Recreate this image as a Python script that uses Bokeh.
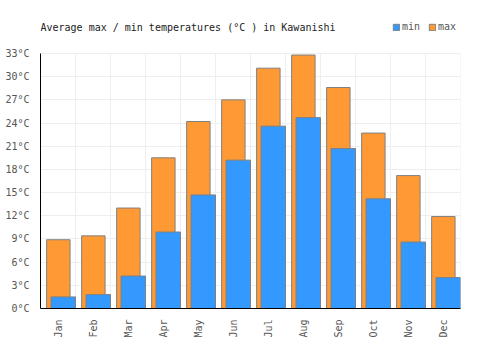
import numpy as np
from bokeh.plotting import figure
from bokeh.models import (Range1d, FixedTicker, PrintfTickFormatter, Legend, LegendItem, Label)
from bokeh.embed import file_html
from bokeh.resources import INLINE

months = ["Jan", "Feb", "Mar", "Apr", "May", "Jun", "Jul", "Aug", "Sep", "Oct", "Nov", "Dec"]
t_max = [8.9, 9.4, 13.0, 19.5, 24.2, 27.0, 31.1, 32.8, 28.6, 22.7, 17.2, 11.9]
t_min = [1.5, 1.8, 4.2, 9.9, 14.7, 19.2, 23.6, 24.7, 20.7, 14.2, 8.6, 4.0]
y_ticks = list(range(0, 34, 3))
title_text = "Average max / min temperatures (°C ) in Kawanishi"

FONT = "DejaVu Sans Mono"
W, H = 500, 350
LEFT, RIGHT, TOP, BOTTOM = 40, 40, 10, 42
frame_h = H - TOP - BOTTOM           # 298 px
axis_h = 255                          # px from 0 to 33 in the reference
y_top = y_ticks[-1] * frame_h / axis_h

n = len(months)
centers = np.arange(n) + 0.5
bounds = np.arange(n + 1)

p = figure(width=W, height=H, output_backend="svg", toolbar_location=None,
           x_range=Range1d(0, n), y_range=Range1d(0, y_top),
           min_border_left=LEFT, min_border_right=RIGHT, min_border_top=TOP,
           min_border_bottom=BOTTOM)

p.outline_line_color = None
p.xgrid.visible = False
p.ygrid.ticker = FixedTicker(ticks=y_ticks)
p.ygrid.grid_line_color = "#eeeeee"

# vertical grid lines at category boundaries, only up to the top tick
p.segment(x0=bounds, x1=bounds, y0=[y_ticks[0]] * (n + 1), y1=[y_ticks[-1]] * (n + 1),
          line_color="#eeeeee", line_width=1, level="underlay")

r_max = p.vbar(x=centers + 0.01, top=t_max, bottom=0, width=0.67,
               fill_color="#FF9933", line_color="#808080", line_width=1)
r_min = p.vbar(x=centers + 0.15, top=t_min, bottom=0, width=0.70,
               fill_color="#3399FF", line_color="#808080", line_width=1)

p.xaxis.ticker = FixedTicker(ticks=list(centers))
p.xaxis.major_label_overrides = {float(c): m for c, m in zip(centers, months)}
p.xaxis.major_label_orientation = np.pi / 2
p.yaxis.ticker = FixedTicker(ticks=y_ticks)
p.yaxis.formatter = PrintfTickFormatter(format="%d°C")
p.yaxis.bounds = (y_ticks[0], y_ticks[-1])

for ax in (p.xaxis[0], p.yaxis[0]):
    ax.axis_line_color = "black"
    ax.axis_line_width = 1
    ax.major_tick_line_color = None
    ax.minor_tick_line_color = None
    ax.major_label_text_font = FONT
    ax.major_label_text_font_size = "10px"
    ax.major_label_text_color = "#555555"
    ax.major_label_standoff = 5

title = Label(x=0, y=frame_h - 17, x_units="screen", y_units="screen",
              text=title_text, text_font=FONT, text_font_size="10px",
              text_color="#222222", text_baseline="middle", text_align="left")
p.add_layout(title)

legend = Legend(items=[LegendItem(label="min", renderers=[r_min]),
                       LegendItem(label="max", renderers=[r_max])],
                orientation="horizontal", location=(352, frame_h - 22),
                glyph_width=8, glyph_height=8, label_text_font=FONT,
                label_text_font_size="10px", label_text_color="#555555",
                label_standoff=2, spacing=6, padding=0, margin=0,
                border_line_color=None, background_fill_alpha=0, label_height=10)
p.add_layout(legend, "center")

open("out.html", "w").write(file_html(p, INLINE))
